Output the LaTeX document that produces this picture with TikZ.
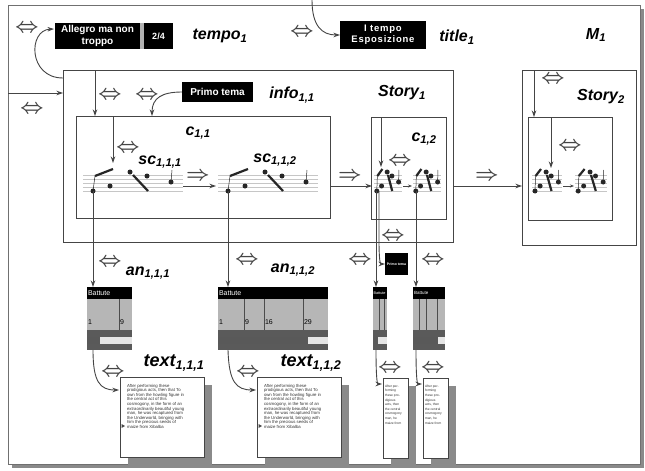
\documentclass[tikz,border=0pt]{standalone}
\usepackage{fontspec}
\setmainfont{Liberation Sans}
\usetikzlibrary{arrows.meta,calc}
\definecolor{ln}{HTML}{454545}
\definecolor{frm}{HTML}{707070}
\definecolor{shd}{HTML}{8A8A8A}
\definecolor{angray}{HTML}{B6B6B6}
\definecolor{anbar}{HTML}{5A5A5A}
\newcommand\sublab[2]{#1\textsubscript{#2}}
\newcommand\dbla{\scalebox{2.05}{\boldmath$\Leftrightarrow$}}
\newcommand\ria{\scalebox{2.05}{\boldmath$\Rightarrow$}}
\newcommand\bodytext{After performing these\\prodigious acts, then that To\\own from the howling figure in\\the central act of this\\cosmogony, in the form of an\\extraordinarily beautiful young\\man, he was recaptured from\\the Underworld, bringing with\\him the precious seeds of\\maize from Xibalba}
\newcommand\narrowtext{After per-\\forming\\these pro-\\digious\\acts, then\\the central\\cosmogony\\man, he\\maize from}
\newcommand\snip[3]{%
\begin{scope}[shift={(#1,#2)}, xscale=#3]
 \foreach \yy in {3,7,11,15,19} \draw[gray!45, line width=0.4pt] (0,\yy) -- (100,\yy);
 \draw[black!85, line width=0.5pt] (10,19) -- (12,4) (88,10) -- (89,-2);
 \draw[black!85, line width=2.2pt] (12,4) -- (30,-3) (50,3) -- (65,19);
 \foreach \xx/\yy in {10/19, 27/14, 47/0, 64/4, 88/10} \fill[black!85] (\xx,\yy) ellipse [x radius={2.5/#3}, y radius=2.5];
\end{scope}}
\newcommand\annbox[4]{%
 \fill[angray] (#1,299) rectangle ++(#2,31);
 \fill[black] (#1,287) rectangle ++(#2,12);
 \fill[anbar] (#1,330) rectangle ++(#2,20);
 \fill[gray!20] (#1,337) rectangle ++(#2,7);
 \fill[black!65] (#1,337) rectangle (#3,344);
 \foreach \v in {#4} \draw[line width=1pt, black!70] (\v,299) -- (\v,330);
}
\tikzset{
 every node/.style={inner sep=0, outer sep=0},
 box/.style={draw=ln, line width=1pt, fill=white, anchor=north west},
 blk/.style={fill=black, text=white, anchor=north west, align=center, font=\fontsize{10}{12}\selectfont\bfseries},
 lbl/.style={font=\fontsize{16}{18}\selectfont\bfseries\itshape},
 biglbl/.style={font=\fontsize{18}{20}\selectfont\bfseries\itshape},
 arr/.style={draw=ln, line width=0.9pt, -{Stealth[length=6.5pt,width=4.5pt]}},
 sarr/.style={draw=ln, line width=0.7pt, -{Stealth[length=4pt,width=3pt]}},
 dbl/.style={text=ln},
 anl/.style={anchor=west, font=\fontsize{7}{8}\selectfont},
 txt/.style={anchor=north west, align=left, text=black!80, font=\fontsize{4.3}{4.6}\selectfont},
 ntxt/.style={anchor=north west, align=left, text=black!80, font=\fontsize{3.3}{4.6}\selectfont}
}
\begin{document}
\begin{tikzpicture}[x=1pt,y=-1pt]
\useasboundingbox (0,0) rectangle (645,471);
% frame
\fill[shd] (12,9) rectangle (644,468);
\node[box, draw=frm, minimum width=632, minimum height=459] (m1) at (8,5) {};
% containers
\node[box, minimum width=390, minimum height=172] (story1) at (63,70) {};
\node[box, minimum width=254, minimum height=102] (c11) at (76,116) {};
\node[box, minimum width=75, minimum height=102] (c12) at (371,117) {};
\node[box, minimum width=114, minimum height=175] (story2) at (522,70) {};
\node[box, minimum width=84, minimum height=103] (c21) at (528,117) {};
% black boxes
\fill[gray!60] (140,23) rectangle (144,49);
\node[blk, minimum width=85, minimum height=26] (allegro) at (55,23) {Allegro ma non\\troppo};
\node[blk, minimum width=29, minimum height=26, font=\fontsize{9}{10}\selectfont\bfseries] (tempoval) at (144,23) {2/4};
\node[blk, minimum width=86, minimum height=28, font=\fontsize{9.5}{11}\selectfont\bfseries\addfontfeature{LetterSpace=8}] (itempo) at (340,21) {I tempo\\Esposizione};
\node[blk, minimum width=71, minimum height=20] (primo) at (182,82) {Primo tema};
\node[blk, minimum width=23, minimum height=22, font=\fontsize{3.5}{4}\selectfont\bfseries] (primo2) at (385,253) {Primo tema};
% labels
\node[lbl] (tempo1) at (220,36) {\sublab{tempo}{1}};
\node[lbl] (title1) at (457,37) {\sublab{title}{1}};
\node[lbl] (mlab) at (596,35) {\sublab{M}{1}};
\node[lbl] (info11) at (292,95) {\sublab{info}{1,1}};
\node[lbl] (story1lab) at (402,93) {\sublab{Story}{1}};
\node[lbl] (story2lab) at (601,97) {\sublab{Story}{2}};
\node[lbl] (c11lab) at (198,133) {\sublab{c}{1,1}};
\node[lbl] (c12lab) at (424,139) {\sublab{c}{1,2}};
\node[lbl] (sc111lab) at (160,162) {\sublab{sc}{1,1,1}};
\node[lbl] (sc112lab) at (275,160) {\sublab{sc}{1,1,2}};
\node[lbl] (an111lab) at (148,273) {\sublab{an}{1,1,1}};
\node[lbl] (an112lab) at (293,270) {\sublab{an}{1,1,2}};
\node[biglbl] (t111lab) at (174,363) {\sublab{text}{1,1,1}};
\node[biglbl] (t112lab) at (311,363) {\sublab{text}{1,1,2}};
% double arrows
\foreach \n/\x/\y in {d1/27/28, d2/302/32, d3/32/109, d4/110/95, d5/147/95, d6/128/148, d7/400/161, d8/553/79, d9/570/146, d10/110/262, d11/247/260, d12/360/260, d13/433/260, d14/393/236, d15/113/372, d16/248/372, d17/390/368, d18/433/368}
  \node[dbl] (\n) at (\x,\y) {\dbla};
\foreach \n/\x/\y in {r1/198/176, r2/350/176, r3/487/176}
  \node[dbl] (\n) at (\x,\y) {\ria};
% scores
\snip{83}{172}{1}
\snip{218}{172}{1}
\snip{374}{172}{0.28}
\snip{413}{172}{0.28}
\snip{532}{172}{0.3}
\snip{575}{172}{0.32}
\coordinate (n111) at (93,191);
\coordinate (n112) at (228,191);
\coordinate (n121) at (376,191);
\coordinate (n121b) at (379,191);
\coordinate (n122) at (416,191);
\coordinate (s111out) at (183,186);
\coordinate (s112in) at (216,186);
\coordinate (s121in) at (372,186);
\coordinate (s121out) at (403,186);
\coordinate (s122in) at (412,186);
\coordinate (s211out) at (563,186);
\coordinate (s212in) at (574,186);
% annotation boxes
\annbox{87}{45}{100}{119}
\node[anchor=north west, minimum width=45, minimum height=63] (an111) at (87,287) {};
\node[anl, text=white] (an111h) at (88,293) {Battute};
\node[anl] (an111a) at (88,322) {1};
\node[anl] (an111b) at (120,322) {9};
\annbox{218}{110}{308}{244,264,303}
\node[anchor=north west, minimum width=110, minimum height=63] (an112) at (218,287) {};
\node[anl, text=white] (an112h) at (219,293) {Battute};
\node[anl] (an112a) at (219,322) {1};
\node[anl] (an112b) at (245,322) {9};
\node[anl] (an112c) at (265,322) {16};
\node[anl] (an112d) at (304,322) {29};
\annbox{373}{14}{378}{379,384}
\node[anchor=north west, minimum width=14, minimum height=63] (an121) at (373,287) {};
\node[anl, text=white, font=\fontsize{3.8}{4}\selectfont] (an121h) at (373.5,293) {Battute};
\annbox{413}{32}{438}{419,426,437}
\node[anchor=north west, minimum width=32, minimum height=63] (an122) at (413,287) {};
\node[anl, text=white, font=\fontsize{4.5}{5}\selectfont] (an122h) at (414,293) {Battute};
% text boxes
\fill[shd] (128,385) rectangle (212,465);
\fill[shd] (265,385) rectangle (349,465);
\fill[shd] (391,386) rectangle (416,465);
\fill[shd] (431,386) rectangle (456,465);
\node[box, minimum width=84, minimum height=80] (t111) at (120,377) {};
\node[box, minimum width=84, minimum height=80] (t112) at (257,377) {};
\node[box, minimum width=25, minimum height=80] (t121) at (383,378) {};
\node[box, minimum width=25, minimum height=80] (t122) at (423,378) {};
\node[txt] (t111txt) at (127,384) {\bodytext};
\node[txt] (t112txt) at (264,384) {\bodytext};
\node[ntxt] (t121txt) at (385,385) {\narrowtext};
\node[ntxt] (t122txt) at (425,385) {\narrowtext};
\fill[ln] (121.5,424) -- (125,426) -- (121.5,428) -- cycle;
\fill[ln] (258.5,424) -- (262,426) -- (258.5,428) -- cycle;
% connectors
\coordinate (lin) at (8,93);
\draw[arr] (lin) -- (lin -| story1.west);
\coordinate (cstart) at (63,78);
\coordinate (aend) at (54,29);
\draw[arr] (cstart) .. controls (28,78) and (28,30) .. (aend);
\coordinate (tstart) at (312,0);
\draw[arr] (tstart) .. controls (312,26) and (322,35) .. (itempo.west);
\coordinate (pend) at (152,116);
\draw[arr] (primo.west) .. controls (162,92) and (152,98) .. (pend);
\coordinate (p1) at (95,70);
\draw[arr] (p1) -- (p1 |- c11.north);
\coordinate (p2) at (113,116); \coordinate (p2e) at (113,163);
\draw[arr] (p2) -- (p2e);
\coordinate (p3) at (381,117); \coordinate (p3e) at (381,167);
\draw[arr] (p3) -- (p3e);
\coordinate (p4) at (534,70);
\draw[arr] (p4) -- (p4 |- c21.north);
\coordinate (p5) at (551,117); \coordinate (p5e) at (551,168);
\draw[arr] (p5) -- (p5e);
\draw[arr] (s111out) -- (s112in);
\draw[arr] (c11.east |- s121in) -- (s121in);
\draw[sarr] (s121out) -- (s122in);
\draw[arr] (story1.east |- s121in) -- (story2.west |- s121in);
\draw[sarr] (s211out) -- (s212in);
\draw[arr] (n111) -- (n111 |- an111.north);
\draw[arr] (n112) -- (n112 |- an112.north);
\draw[arr] (n121) -- (n121 |- an121.north);
\draw[arr] (n122) -- (n122 |- an122.north);
\coordinate (q1) at (379,240);
\draw[arr] (n121b) -- (q1) .. controls (379,258) and (380,264) .. (primo2.west);
\coordinate (e111) at (119,390);
\coordinate (e112) at (256,390);
\coordinate (e121) at (382,384);
\coordinate (e122) at (422,384);
\draw[arr] (n111 |- an111.south) .. controls (93,382) and (100,390) .. (e111);
\draw[arr] (n112 |- an112.south) .. controls (229,382) and (236,390) .. (e112);
\draw[arr] (n121 |- an121.south) .. controls (376,375) and (377,384) .. (e121);
\draw[arr] (n122 |- an122.south) .. controls (416,375) and (417,384) .. (e122);
\end{tikzpicture}
\end{document}
